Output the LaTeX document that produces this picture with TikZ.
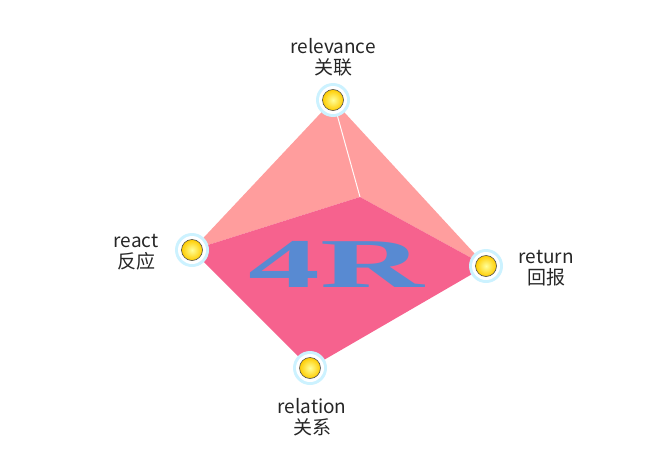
\documentclass[tikz,border=0pt]{standalone}
\usepackage{fontspec}
\newfontfamily\cjk{Noto Sans CJK SC}
\newfontfamily\fourr{Liberation Serif}
\begin{document}
\begin{tikzpicture}[x=1pt,y=-1pt,
  lbl/.style={font=\cjk\fontsize{19}{21}\selectfont,align=center,text=black!85},
  vtx/.style={circle,minimum size=21pt,inner sep=0pt,draw=black!70,line width=0.6pt,inner color=yellow!40!white,outer color=yellow!60!orange}]
\useasboundingbox (0,0) rectangle (671,455);
\coordinate (T) at (333,100);
\coordinate (L) at (192,250);
\coordinate (R) at (486,266);
\coordinate (B) at (310,368);
\coordinate (I) at (360,197);
\fill[red!40!white!90!pink] (T) -- (L) -- (I) -- cycle;
\fill[red!38!white] (T) -- (I) -- (R) -- cycle;
\fill[color={rgb,255:red,246;green,98;blue,142}] (L) -- (I) -- (R) -- (B) -- cycle;
\draw[white!90!pink,line width=1pt] (T) -- (I);
\node[xscale=2.05,font=\fourr\bfseries\fontsize{70}{70}\selectfont,text={rgb,255:red,88;green,138;blue,210}] (r4) at (336,264) {4R};
\foreach \n/\p in {vt/T,vl/L,vr/R,vb/B}{
  \fill[blue!25!cyan!20!white] (\p) circle (17);
  \fill[white] (\p) circle (14);
  \node[vtx] (\n) at (\p) {};
}
\node[lbl,anchor=south] (lt) at (333,80) {relevance\\关联};
\node[lbl,anchor=east] (ll) at (162,252) {react\\反应};
\node[lbl,anchor=west] (lr) at (515,268) {return\\回报};
\node[lbl,anchor=north] (lb) at (312,395) {relation\\关系};
\end{tikzpicture}
\end{document}
